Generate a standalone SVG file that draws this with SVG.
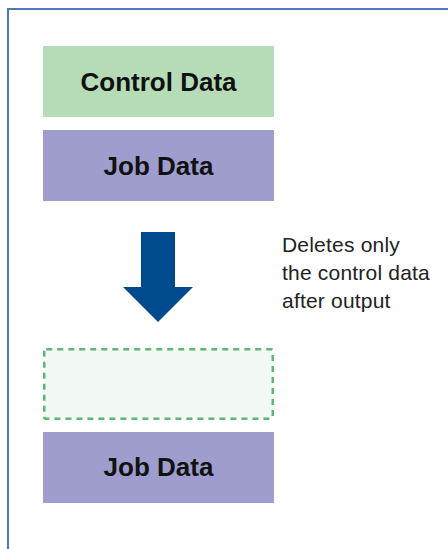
<svg xmlns="http://www.w3.org/2000/svg" width="448" height="549" viewBox="0 0 448 549">
  <style>
    .frame { fill: none; stroke: #4a79b6; stroke-width: 2; }
    .control { fill: #b5dcb7; }
    .job { fill: #9e9dcd; }
    .removed { fill: #f3faf3; stroke: #5db675; stroke-width: 2.5; stroke-dasharray: 6 5; }
    .label { font-family: "Liberation Sans", Arial, sans-serif; font-weight: bold; font-size: 26px; fill: #111; text-anchor: middle; }
    .note { font-family: "Liberation Sans", Arial, sans-serif; font-size: 21px; letter-spacing: 0.2px; fill: #222; }
    .flow { fill: #004a8d; }
  </style>

  <!-- panel frame (top and left edges) -->
  <path class="frame" d="M8 549 V9 H448"/>

  <g id="control-data">
    <rect class="control" x="43" y="46" width="231" height="71"/>
    <text class="label" x="158.5" y="90.5">Control Data</text>
  </g>

  <g id="job-data-before">
    <rect class="job" x="43" y="130" width="231" height="71"/>
    <text class="label" x="158.5" y="175">Job Data</text>
  </g>

  <g id="control-data-deleted">
    <rect class="removed" x="44.25" y="349.25" width="228.5" height="69.5" rx="2"/>
  </g>

  <g id="job-data-after">
    <rect class="job" x="43" y="432" width="231" height="71"/>
    <text class="label" x="158.5" y="476">Job Data</text>
  </g>

  <g id="connectors">
    <polygon class="flow" points="141,232 175,232 175,287 193,287 158,322 123,287 141,287"/>
  </g>

  <g id="note">
    <text class="note" x="282" y="252">Deletes only</text>
    <text class="note" x="282" y="280">the control data</text>
    <text class="note" x="282" y="308">after output</text>
  </g>
</svg>
